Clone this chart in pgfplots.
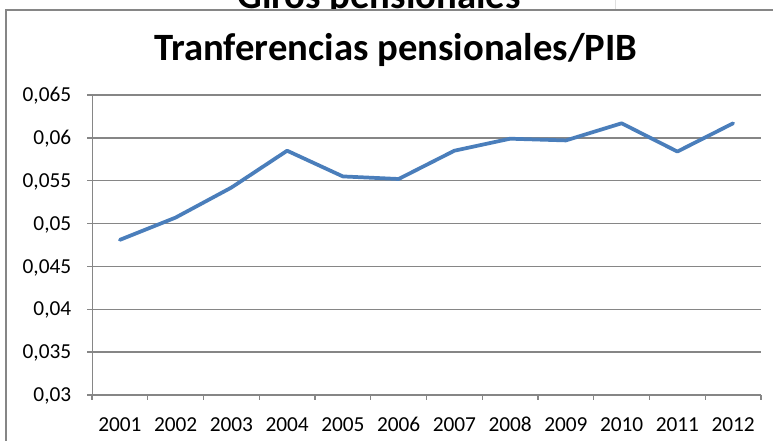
\documentclass[border=0pt]{standalone}
\usepackage{pgfplots}
\pgfplotsset{compat=1.18}
\usepackage{fontspec}
\setmainfont{Carlito}
\definecolor{linea}{HTML}{4A7EBB}
\definecolor{rejilla}{HTML}{868686}

\begin{document}
\begin{tikzpicture}
% slide title behind the chart, cut off at the top
\node[anchor=base, inner sep=0pt, font=\fontsize{29}{34}\selectfont\bfseries]
  at (284.25pt,324.4pt) {Giros pensionales};
\draw[black!12, line width=0.75pt] (461.25pt,323pt) -- (461.25pt,340pt);
% chart area (only its left and top edges are in view)
\fill[white] (4.5pt,323.25pt) rectangle (600pt,-10pt);
\draw[rejilla, line width=1.1pt] (4.5pt,-10pt) -- (4.5pt,323.25pt) -- (600pt,323.25pt);
\node[anchor=base, inner sep=0pt, font=\fontsize{29}{34}\selectfont\bfseries]
  at (296.85pt,285.15pt) {Tranferencias pensionales/PIB};
\begin{axis}[
    at={(69pt,34.5pt)}, anchor=south west,
    scale only axis, width=501.75pt, height=225pt,
    xmin=0.5, xmax=12.5, ymin=0.03, ymax=0.065,
    axis line style={draw=none},
    xtick pos=left, ytick pos=left,
    tick align=outside,
    major tick length=3.6pt,
    tick style={draw=rejilla, line width=1.1pt},
    xtick={0.5,1.5,...,12.5}, xticklabels={},
    extra x ticks={1,2,3,4,5,6,7,8,9,10,11,12},
    extra x tick labels={2001,2002,2003,2004,2005,2006,2007,2008,2009,2010,2011,2012},
    extra x tick style={major tick length=0pt},
    ytick={0.03,0.035,0.04,0.045,0.05,0.055,0.06,0.065},
    scaled y ticks=false,
    ymajorgrids=true,
    grid style={draw=rejilla, line width=1.1pt},
    tick label style={font=\fontsize{16}{19}\selectfont, text=black, inner sep=0pt},
    xticklabel style={anchor=base, yshift=-27.5pt},
    yticklabel style={anchor=base east, xshift=-11.8pt, yshift=-5pt,
      /pgf/number format/.cd, use comma, fixed, precision=3, assume math mode=true},
]
\addplot[linea, line width=2.8pt, line join=round, line cap=round] coordinates {
  (1,0.0481) (2,0.0507) (3,0.0542) (4,0.0585) (5,0.0555) (6,0.0552)
  (7,0.0585) (8,0.0599) (9,0.0597) (10,0.0617) (11,0.0584) (12,0.0617)
};
\draw[rejilla, line width=1.1pt] (rel axis cs:0,1) -- (rel axis cs:0,0) -- (rel axis cs:1,0);
\end{axis}
% keep the strip right of the plot area clear
\fill[white] (572pt,-10pt) rectangle (600pt,322.6pt);
\pgfresetboundingbox
\useasboundingbox (0,0) rectangle (579.75pt,330.75pt);
\end{tikzpicture}
\end{document}
